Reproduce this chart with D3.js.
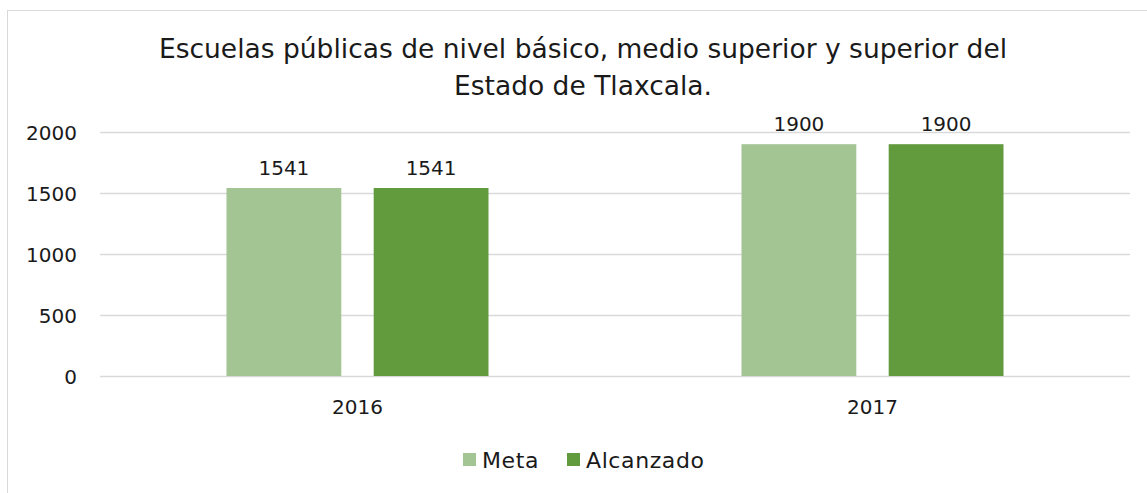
<!DOCTYPE html>
<html lang="es">
<head>
    <meta charset="UTF-8">
    <title>Escuelas públicas - Tlaxcala</title>
    <style>
        body { margin: 0; background: #fff; }
        text { font-family: "DejaVu Sans", sans-serif; fill: #1a1a1a; }
    </style>
</head>
<body>
    <script src="https://d3js.org/d3.v7.min.js"></script>
    <script>
        // datos del gráfico
        var years = ["2016", "2017"];
        var series = ["Meta", "Alcanzado"];
        var meta = [1541, 1900];
        var alcanzado = [1541, 1900];
        var yTicks = [0, 500, 1000, 1500, 2000];
        var colors = ["#a3c493", "#629a3e"];

        var width = 1147, height = 493;
        var margin = {left: 100, right: 17, top: 132, bottom: 117};

        var svg = d3.select("body").append("svg")
            .attr("width", width)
            .attr("height", height);

        // marco
        svg.append("rect")
            .attr("x", 7.5).attr("y", 10.5)
            .attr("width", width + 10).attr("height", height + 10)
            .attr("fill", "none").attr("stroke", "#d9d9d9");

        var x = d3.scaleBand()
            .domain(years)
            .range([margin.left, width - margin.right]);

        var x1 = d3.scaleBand()
            .domain(series)
            .range([0, 262])
            .paddingInner(0.22);

        var y = d3.scaleLinear()
            .domain([0, 2000])
            .range([height - margin.bottom, margin.top]);

        // líneas de cuadrícula
        svg.append("g")
            .selectAll("line")
            .data(yTicks)
            .enter().append("line")
            .attr("x1", margin.left).attr("x2", width - margin.right)
            .attr("y1", function(d) { return Math.round(y(d)) + 0.5; })
            .attr("y2", function(d) { return Math.round(y(d)) + 0.5; })
            .attr("stroke", "#d9d9d9").attr("stroke-width", 1.5);

        // eje y
        var yAxis = svg.append("g")
            .attr("transform", "translate(" + (margin.left - 23) + ",0)")
            .call(d3.axisLeft(y).tickValues(yTicks).tickFormat(d3.format("d")).tickSize(0).tickPadding(0));
        yAxis.select(".domain").remove();
        yAxis.selectAll("text").style("font-size", "20px").attr("dy", "0.35em");

        // eje x
        var xAxis = svg.append("g")
            .attr("transform", "translate(0," + (height - margin.bottom) + ")")
            .call(d3.axisBottom(x).tickSize(0).tickPadding(24));
        xAxis.select(".domain").remove();
        xAxis.selectAll("text").style("font-size", "20px");

        var rows = years.map(function(yr, i) {
            return {year: yr, values: [meta[i], alcanzado[i]]};
        });

        var groups = svg.append("g")
            .selectAll("g")
            .data(rows)
            .enter().append("g")
            .attr("transform", function(d) {
                return "translate(" + (x(d.year) + (x.bandwidth() - 262) / 2) + ",0)";
            });

        groups.selectAll("rect")
            .data(function(d) { return d.values.map(function(v, j) { return {s: series[j], v: v, j: j}; }); })
            .enter().append("rect")
            .attr("x", function(d) { return x1(d.s); })
            .attr("width", x1.bandwidth())
            .attr("y", function(d) { return y(d.v); })
            .attr("height", function(d) { return y(0) - y(d.v); })
            .attr("fill", function(d) { return colors[d.j]; });

        groups.selectAll("text")
            .data(function(d) { return d.values.map(function(v, j) { return {s: series[j], v: v}; }); })
            .enter().append("text")
            .attr("x", function(d) { return x1(d.s) + x1.bandwidth() / 2; })
            .attr("y", function(d) { return y(d.v) - 13; })
            .attr("text-anchor", "middle")
            .style("font-size", "20px")
            .text(function(d) { return d.v; });

        // título
        var title = svg.append("text")
            .attr("x", 583)
            .attr("text-anchor", "middle")
            .style("font-size", "26.5px");
        title.append("tspan").attr("x", 583).attr("y", 58)
            .text("Escuelas públicas de nivel básico, medio superior y superior del");
        title.append("tspan").attr("x", 583).attr("y", 95)
            .text("Estado de Tlaxcala.");

        // leyenda
        var legendX = [463, 567];
        var legend = svg.append("g")
            .selectAll("g")
            .data(series)
            .enter().append("g")
            .attr("transform", function(d, i) { return "translate(" + legendX[i] + ",453)"; });
        legend.append("rect")
            .attr("width", 13).attr("height", 13)
            .attr("fill", function(d, i) { return colors[i]; });
        legend.append("text")
            .attr("x", 19).attr("y", 7).attr("dy", "0.35em")
            .style("font-size", "22px")
            .style("letter-spacing", "0.6px")
            .text(function(d) { return d; });
    </script>
</body>
</html>
